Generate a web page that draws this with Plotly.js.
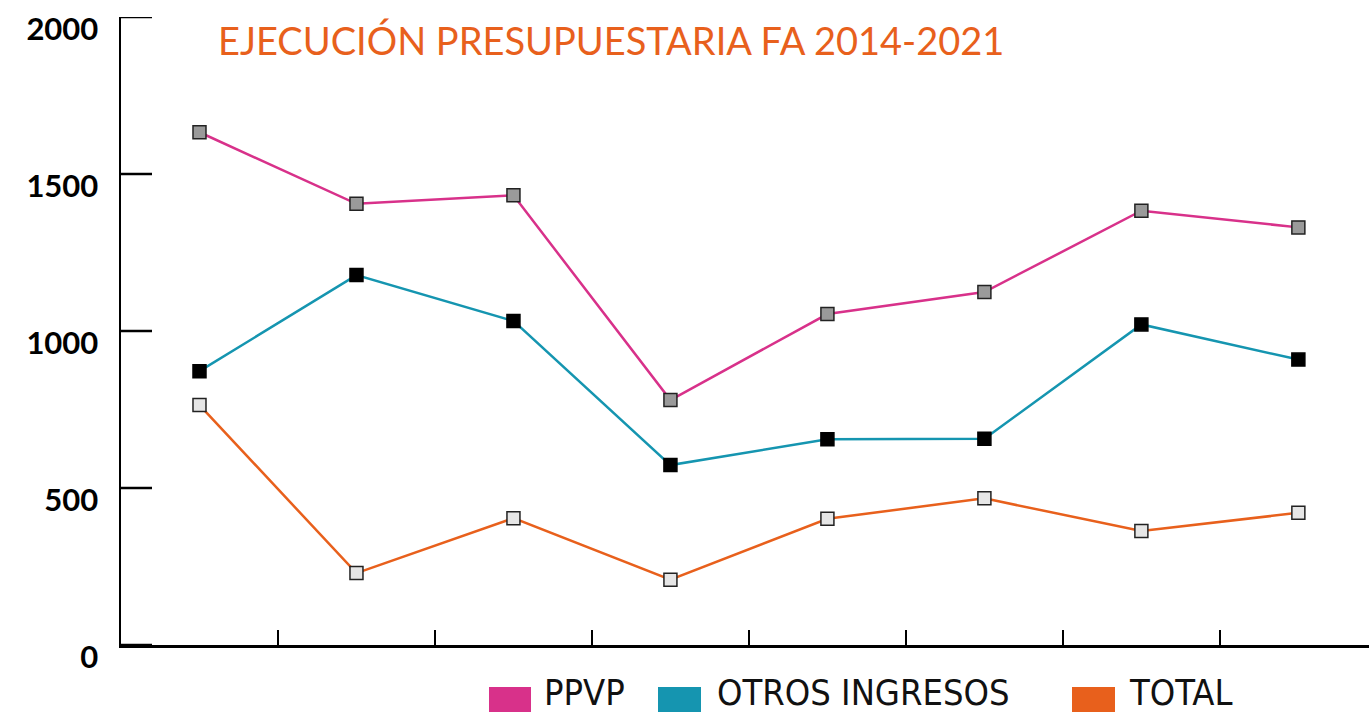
<!DOCTYPE html>
<html><head><meta charset="utf-8">
<script src="https://cdn.plot.ly/plotly-3.0.1.min.js"></script>
<style>html,body{margin:0;padding:0;background:#fff;}#chart{width:1369px;height:712px;}</style>
</head><body><div id="chart"></div>
<script>
const years = ["2014","2015","2016","2017","2018","2019","2020","2021"];
const ppvp = [1633, 1405, 1432, 780, 1054, 1124, 1383, 1330];
const otros = [872, 1178, 1032, 573, 655, 657, 1021, 909];
const total = [764, 229, 404, 208, 402, 467, 363, 421];
const seriesNames = ["PPVP", "OTROS INGRESOS", "TOTAL"];
const seriesColors = ["#d8318a", "#1595b0", "#e8601c"];
const markerFills = ["#9a9a9a", "#000000", "#e6e6e6"];
const yTicks = [0, 500, 1000, 1500, 2000];
const titleText = "EJECUCIÓN PRESUPUESTARIA FA 2014-2021";

const seriesValues = [ppvp, otros, total];
const traces = seriesValues.map((vals, i) => ({
  type: "scatter", mode: "lines+markers", x: years, y: vals, name: seriesNames[i],
  line: {color: seriesColors[i], width: 2.5},
  marker: {symbol: "square", size: 13, color: markerFills[i],
           line: {color: i === 1 ? "#000" : "#222", width: 1.5}},
  cliponaxis: false, showlegend: false
}));

const plotL = 121, plotW = 1248, plotT = 17, plotH = 628;
const px2x = p => (p - plotL) / plotW;
const py2y = p => (plotT + plotH - p) / plotH;
const legendRects = [[489, 531], [658, 701], [1072, 1115]];
const legendText = [542, 715, 1127];
const shapes = legendRects.map((r, i) => ({
  type: "rect", xref: "paper", yref: "paper",
  x0: px2x(r[0]), x1: px2x(r[1]), y0: py2y(687), y1: py2y(730),
  fillcolor: seriesColors[i], line: {width: 0}
}));
// y-axis inside tick marks at the tick values
yTicks.forEach(v => shapes.push({
  type: "line", xref: "paper", yref: "y", x0: 0, x1: 31 / plotW, y0: v, y1: v,
  line: {color: "#000", width: 2.5}
}));
const annotations = seriesNames.map((n, i) => ({
  text: n, xref: "paper", yref: "paper", x: px2x(legendText[i]), y: py2y(692),
  xanchor: "left", yanchor: "middle", showarrow: false,
  font: {family: "Liberation Sans Narrow, DejaVu Sans Condensed, Roboto", size: 36, color: "#111"}
}));

const layout = {
  width: 1369, height: 712,
  margin: {l: plotL, r: 0, t: plotT, b: 712 - plotT - plotH},
  paper_bgcolor: "#fff", plot_bgcolor: "#fff",
  title: {text: titleText, xref: "container", yref: "container", x: 218/1369, y: 1 - 42/712,
          xanchor: "left", yanchor: "middle",
          font: {family: "Lato, Noto Sans", size: 38, color: "#e8601c"}},
  xaxis: {type: "category", range: [-0.5, 7.45], showticklabels: false, showgrid: false,
          zeroline: false, showline: true, linecolor: "#000", linewidth: 2.5,
          ticks: "inside", tickson: "boundaries", ticklen: 15, tickwidth: 2, tickcolor: "#000"},
  yaxis: {range: [0, 2000], tickmode: "array", tickvals: yTicks, ticktext: yTicks.map(String),
          showgrid: false, zeroline: false, showline: true, linecolor: "#000", linewidth: 2.5,
          ticks: "", ticklabelstandoff: 14, ticklabelshift: 12,
          tickfont: {family: "Lato, Noto Sans", size: 31, color: "#000", weight: "bold"}},
  shapes: shapes, annotations: annotations
};
Plotly.newPlot("chart", traces, layout, {displayModeBar: false, staticPlot: true});
</script></body></html>
